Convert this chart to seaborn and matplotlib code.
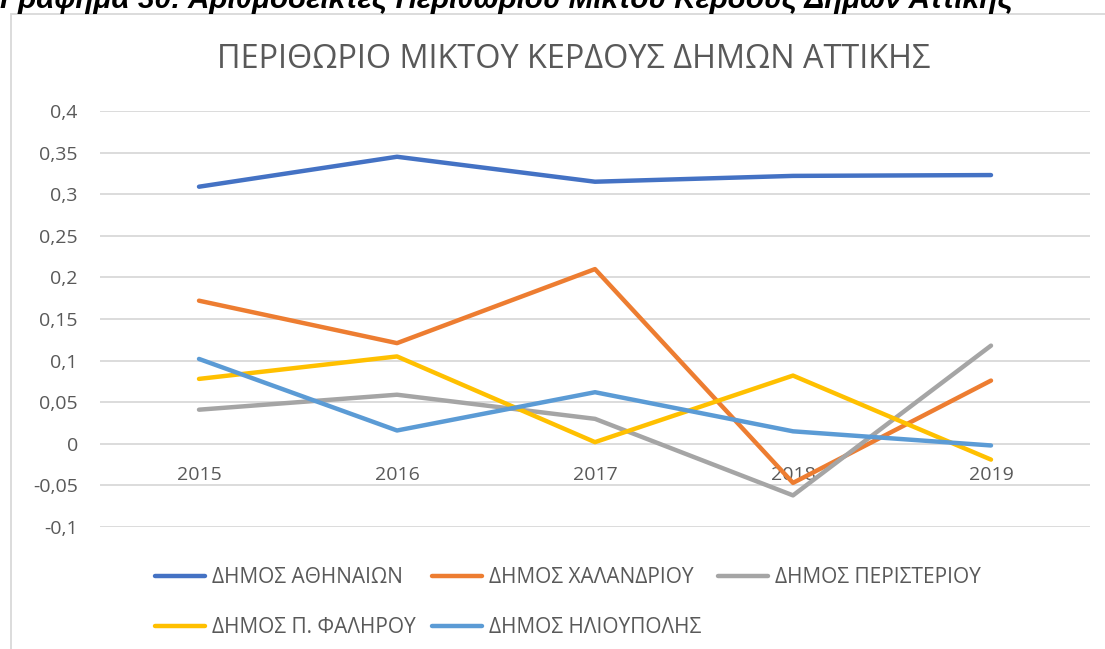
import numpy as np
import pandas as pd
import matplotlib
matplotlib.use("Agg")
import matplotlib.pyplot as plt
from matplotlib import font_manager
from matplotlib.patches import Rectangle
from matplotlib.lines import Line2D
from matplotlib.ticker import FuncFormatter
import seaborn as sns

years = ["2015", "2016", "2017", "2018", "2019"]
athens = [0.309, 0.345, 0.315, 0.322, 0.323]
chalandri = [0.172, 0.121, 0.210, -0.047, 0.076]
peristeri = [0.041, 0.059, 0.030, -0.062, 0.118]
faliro = [0.078, 0.105, 0.002, 0.082, -0.019]
ilioupoli = [0.102, 0.016, 0.062, 0.015, -0.002]
series_names = ["ΔΗΜΟΣ ΑΘΗΝΑΙΩΝ", "ΔΗΜΟΣ ΧΑΛΑΝΔΡΙΟΥ", "ΔΗΜΟΣ ΠΕΡΙΣΤΕΡΙΟΥ",
                "ΔΗΜΟΣ Π. ΦΑΛΗΡΟΥ", "ΔΗΜΟΣ ΗΛΙΟΥΠΟΛΗΣ"]
colors = ["#4472C4", "#ED7D31", "#A5A5A5", "#FFC000", "#5B9BD5"]
title = "ΠΕΡΙΘΩΡΙΟ ΜΙΚΤΟΥ ΚΕΡΔΟΥΣ ΔΗΜΩΝ ΑΤΤΙΚΗΣ"
caption = "Γράφημα 30: Αριθμοδείκτες Περιθωρίου Μικτού Κέρδους Δήμων Αττικής"
yticks = [-0.1, -0.05, 0, 0.05, 0.1, 0.15, 0.2, 0.25, 0.3, 0.35, 0.4]

sns.set_theme(style="white")
names = {f.name for f in font_manager.fontManager.ttflist}
main_font = "Open Sans" if "Open Sans" in names else "DejaVu Sans"
plt.rcParams["font.family"] = [main_font, "DejaVu Sans"]

df = pd.DataFrame({"year": years, series_names[0]: athens, series_names[1]: chalandri,
                   series_names[2]: peristeri, series_names[3]: faliro,
                   series_names[4]: ilioupoli})
long = df.melt(id_vars="year", var_name="series", value_name="value")
long["pos"] = long["year"].map({y: i for i, y in enumerate(years)})

W, H = 1105, 649
fig = plt.figure(figsize=(W / 100, H / 100), dpi=100)
ax = fig.add_axes([100 / W, 1 - 527 / H, 990 / W, (527 - 111) / H])

LW = 3.2
sns.lineplot(data=long, x="pos", y="value", hue="series", hue_order=series_names,
             palette=colors, linewidth=LW, ax=ax, sort=False, legend=False)
for l in ax.get_lines():
    l.set_solid_capstyle("round")
    l.set_solid_joinstyle("round")

ax.set_xlim(-0.5, len(years) - 0.5)
ax.set_ylim(-0.1, 0.4)
ax.set_yticks(yticks)
ax.yaxis.set_major_formatter(FuncFormatter(lambda v, p: f"{v:g}".replace(".", ",")))
ax.set_xticks(range(len(years)))
ax.set_xticklabels(years)
ax.yaxis.grid(True, color="#D9D9D9", linewidth=1.3)
ax.set_axisbelow(True)
for s in ax.spines.values():
    s.set_visible(False)
ax.spines["bottom"].set_position(("data", 0))
ax.tick_params(axis="y", length=0, pad=16, labelsize=14, labelcolor="#595959")
ax.tick_params(axis="x", length=0, pad=16, labelsize=14, labelcolor="#595959")
ax.set_xlabel("")
ax.set_ylabel("")

# chart-area frame
fig.patches.append(Rectangle((11 / W, -0.05), 1.2, 1 - 14 / H + 0.05,
                             transform=fig.transFigure, fill=False,
                             edgecolor="#D9D9D9", linewidth=1.3))

fig.text(574 / W, 1 - 59 / H, title, ha="center", va="center",
         fontsize=23.3, color="#595959")

fig.text(0 / W, 1 - 8 / H, caption, ha="left", va="baseline", fontsize=21.3,
         fontweight="bold", fontstyle="italic", color="black",
         family=["Liberation Sans", "DejaVu Sans"])

handles = [Line2D([0], [0], color=c, lw=LW, solid_capstyle="round") for c in colors]
order = [0, 3, 1, 4, 2]
leg = fig.legend([handles[i] for i in order], [series_names[i] for i in order],
                 ncol=3, loc="upper left", bbox_to_anchor=(155 / W, 1 - 567 / H),
                 frameon=False, fontsize=15, handlelength=2.4, handletextpad=0.34,
                 columnspacing=0.79, labelspacing=1.4, borderaxespad=0,
                 borderpad=0)
for t in leg.get_texts():
    t.set_color("#595959")

fig.savefig("out.png", dpi=100)
